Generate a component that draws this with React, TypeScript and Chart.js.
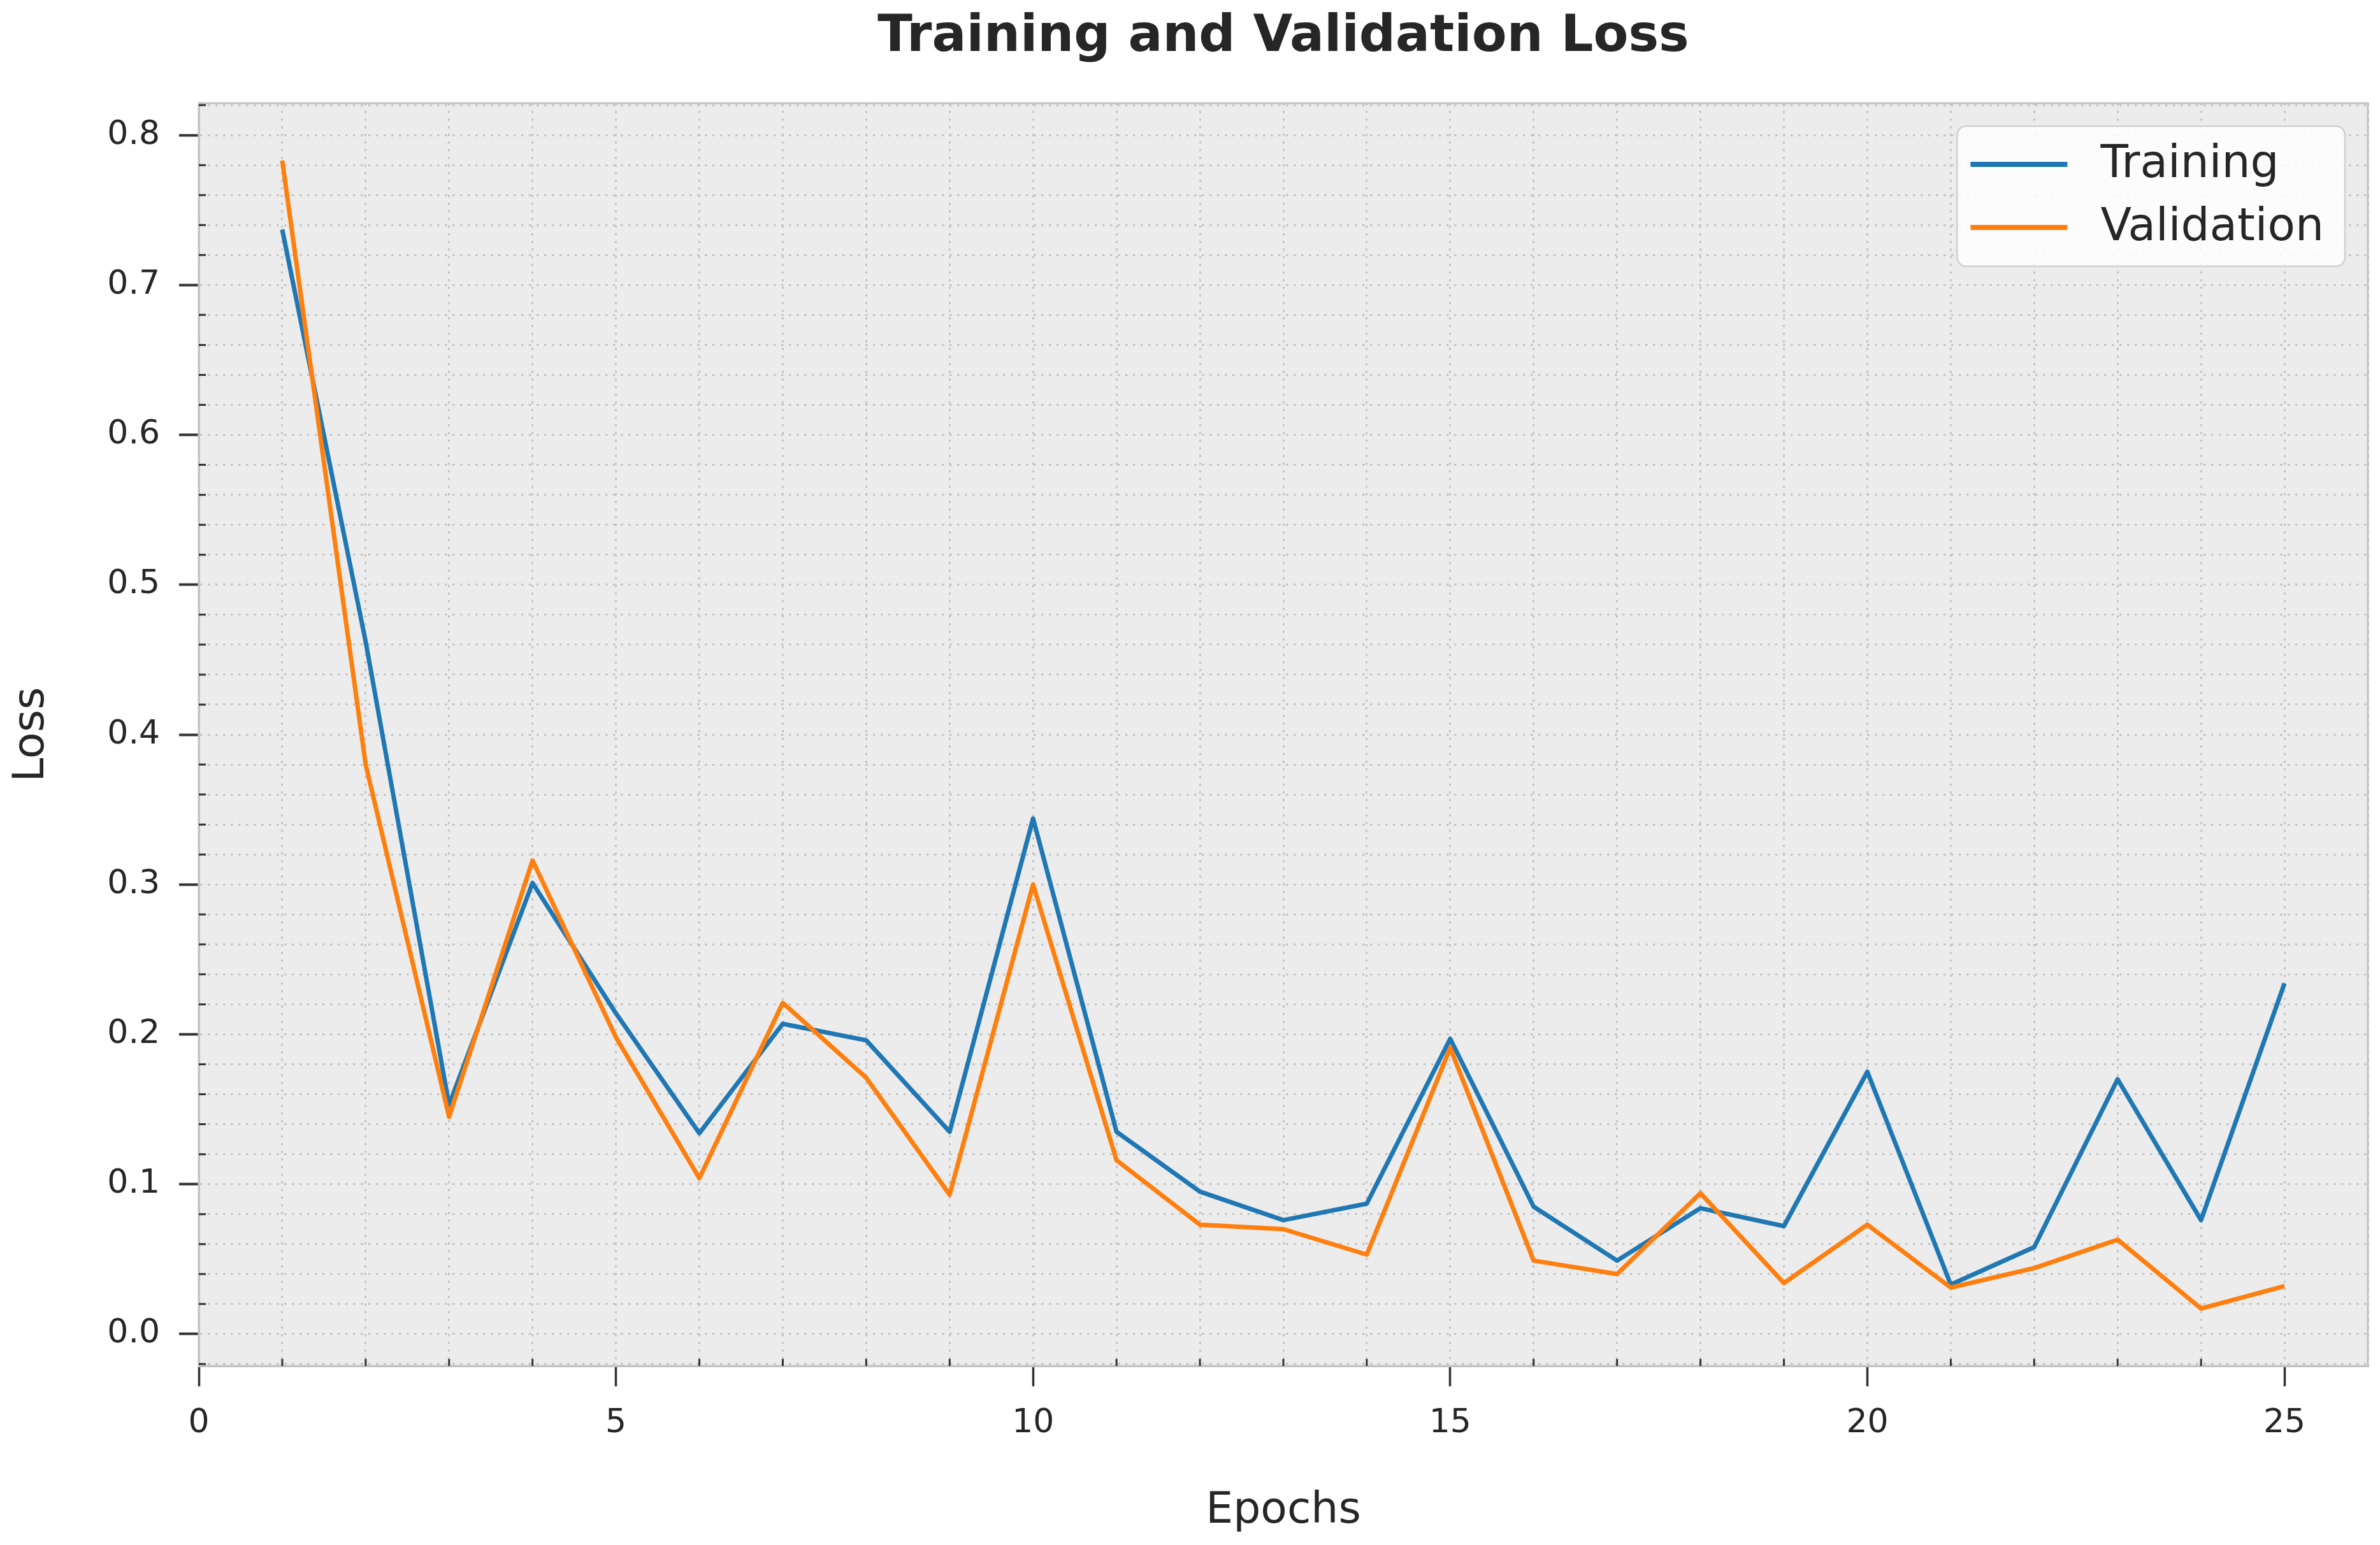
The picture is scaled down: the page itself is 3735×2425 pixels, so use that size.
import React, { useEffect, useRef } from 'react';
import { Chart, registerables } from 'chart.js';

Chart.register(...registerables);

const chartTitle = 'Training and Validation Loss';
const xAxisLabel = 'Epochs';
const yAxisLabel = 'Loss';
const seriesLabels = ['Training', 'Validation'];
const seriesColors = ['#1f77b4', '#ff7f0e'];

const epochs = [1, 2, 3, 4, 5, 6, 7, 8, 9, 10, 11, 12, 13, 14, 15, 16, 17, 18, 19, 20, 21, 22, 23, 24, 25];
const trainingLoss = [
  0.737, 0.462, 0.153, 0.301, 0.214, 0.134, 0.207, 0.196, 0.135, 0.344,
  0.135, 0.095, 0.076, 0.087, 0.197, 0.085, 0.049, 0.084, 0.072, 0.175,
  0.033, 0.058, 0.170, 0.076, 0.234,
];
const validationLoss = [
  0.783, 0.380, 0.145, 0.316, 0.198, 0.104, 0.221, 0.171, 0.093, 0.300,
  0.116, 0.073, 0.070, 0.053, 0.191, 0.049, 0.040, 0.094, 0.034, 0.073,
  0.031, 0.044, 0.063, 0.017, 0.032,
];

const X_MIN = 0;
const X_MAX = 26;
const Y_MIN = -0.0213;
const Y_MAX = 0.8213;

const FONT = '"DejaVu Sans", "Liberation Sans", sans-serif';
const TEXT_COLOR = '#262626';
const TICK_COLOR = '#333333';
const GRID_COLOR = '#c4c4c4';
const FRAME_COLOR = '#c2c2c2';
const PLOT_BG = '#ececec';

const isMajorY = (v: number) => Math.abs(v * 10 - Math.round(v * 10)) < 1e-6;
const isMajorX = (v: number) => Math.abs(v % 5) < 1e-6;

const decorPlugin = {
  id: 'decor',
  beforeDraw(chart: any) {
    const { ctx, chartArea } = chart;
    ctx.save();
    ctx.fillStyle = '#ffffff';
    ctx.fillRect(0, 0, chart.width, chart.height);
    ctx.fillStyle = PLOT_BG;
    ctx.fillRect(chartArea.left, chartArea.top, chartArea.right - chartArea.left, chartArea.bottom - chartArea.top);
    ctx.restore();
  },
  afterDatasetsDraw(chart: any) {
    const { ctx, chartArea } = chart;
    const { left, right, top, bottom } = chartArea;
    ctx.save();
    ctx.strokeStyle = FRAME_COLOR;
    ctx.lineWidth = 3;
    ctx.strokeRect(left, top, right - left, bottom - top);
    ctx.strokeStyle = TICK_COLOR;
    ctx.lineWidth = 3;
    ctx.beginPath();
    const ys = chart.scales.y;
    for (const t of ys.ticks) {
      if (isMajorY(t.value)) continue;
      const py = ys.getPixelForValue(t.value);
      if (py < top + 2 || py > bottom - 1) continue;
      ctx.moveTo(left, py);
      ctx.lineTo(left + 11, py);
    }
    const xs = chart.scales.x;
    for (const t of xs.ticks) {
      if (isMajorX(t.value) || t.value >= X_MAX) continue;
      const px = xs.getPixelForValue(t.value);
      ctx.moveTo(px, bottom);
      ctx.lineTo(px, bottom - 11);
    }
    ctx.stroke();
    ctx.restore();
  },
  afterDraw(chart: any) {
    const { ctx, chartArea } = chart;
    const datasets = chart.data.datasets;
    ctx.save();
    ctx.font = `71px ${FONT}`;
    let maxW = 0;
    for (const ds of datasets) maxW = Math.max(maxW, ctx.measureText(ds.label).width);
    const padL = 21;
    const lineLen = 152;
    const gap = 52;
    const padR = 33;
    const boxW = padL + lineLen + gap + maxW + padR;
    const boxH = 220;
    const boxX = chartArea.right - 36 - boxW;
    const boxY = chartArea.top + 36;
    const r = 14;
    ctx.beginPath();
    ctx.moveTo(boxX + r, boxY);
    ctx.lineTo(boxX + boxW - r, boxY);
    ctx.arcTo(boxX + boxW, boxY, boxX + boxW, boxY + r, r);
    ctx.lineTo(boxX + boxW, boxY + boxH - r);
    ctx.arcTo(boxX + boxW, boxY + boxH, boxX + boxW - r, boxY + boxH, r);
    ctx.lineTo(boxX + r, boxY + boxH);
    ctx.arcTo(boxX, boxY + boxH, boxX, boxY + boxH - r, r);
    ctx.lineTo(boxX, boxY + r);
    ctx.arcTo(boxX, boxY, boxX + r, boxY, r);
    ctx.closePath();
    ctx.fillStyle = 'rgba(255,255,255,0.85)';
    ctx.fill();
    ctx.strokeStyle = '#d0d0d0';
    ctx.lineWidth = 2.5;
    ctx.stroke();
    datasets.forEach((ds: any, i: number) => {
      const y = boxY + 60 + i * 99;
      ctx.strokeStyle = ds.borderColor;
      ctx.lineWidth = 8;
      ctx.lineCap = 'butt';
      ctx.beginPath();
      ctx.moveTo(boxX + padL, y);
      ctx.lineTo(boxX + padL + lineLen, y);
      ctx.stroke();
      ctx.fillStyle = TEXT_COLOR;
      ctx.textBaseline = 'middle';
      ctx.textAlign = 'left';
      ctx.fillText(ds.label, boxX + padL + lineLen + gap, y + 2);
    });
    ctx.restore();
  },
};

export default function App() {
  const canvasRef = useRef<HTMLCanvasElement | null>(null);

  useEffect(() => {
    document.body.style.margin = '0';
    const canvas = canvasRef.current;
    if (!canvas) return;
    const tickColorFn = (major: (v: number) => boolean) => (c: any) =>
      c.tick && major(c.tick.value) ? TICK_COLOR : 'rgba(0,0,0,0)';

    const chart = new Chart(canvas, {
      type: 'line',
      data: {
        datasets: [
          {
            label: seriesLabels[0],
            data: epochs.map((e, i) => ({ x: e, y: trainingLoss[i] })),
            borderColor: seriesColors[0],
            backgroundColor: seriesColors[0],
            borderWidth: 7,
            pointRadius: 0,
            tension: 0,
            borderJoinStyle: 'round',
            order: 2,
          },
          {
            label: seriesLabels[1],
            data: epochs.map((e, i) => ({ x: e, y: validationLoss[i] })),
            borderColor: seriesColors[1],
            backgroundColor: seriesColors[1],
            borderWidth: 7,
            pointRadius: 0,
            tension: 0,
            borderJoinStyle: 'round',
            order: 1,
          },
        ],
      },
      options: {
        responsive: false,
        animation: false,
        devicePixelRatio: 1,
        layout: { padding: { left: 0, right: 19, top: 0, bottom: 0 } },
        plugins: {
          legend: { display: false },
          tooltip: { enabled: false },
          title: {
            display: true,
            text: chartTitle,
            fullSize: false,
            color: TEXT_COLOR,
            font: { family: FONT, size: 80, weight: 'bold' },
            padding: { top: 11, bottom: 55 },
          },
        },
        scales: {
          x: {
            type: 'linear',
            min: X_MIN,
            max: X_MAX,
            afterFit: (s: any) => {
              s.height = 281;
              s.paddingLeft = 0;
              s.paddingRight = 0;
            },
            ticks: {
              stepSize: 1,
              autoSkip: false,
              includeBounds: false,
              maxRotation: 0,
              padding: 27,
              color: TEXT_COLOR,
              font: { family: FONT, size: 52 },
              callback: (v: any) => (isMajorX(Number(v)) && Number(v) < X_MAX ? String(v) : ''),
            },
            grid: {
              color: GRID_COLOR,
              lineWidth: 3,
              drawTicks: true,
              tickLength: 32,
              tickWidth: 3.5,
              tickColor: tickColorFn(isMajorX),
              tickBorderDash: [],
            },
            border: { display: true, color: FRAME_COLOR, width: 3, dash: [3.5, 8.5] },
            title: {
              display: true,
              text: xAxisLabel,
              color: TEXT_COLOR,
              font: { family: FONT, size: 68 },
              padding: { top: 0, bottom: 12 },
            },
          },
          y: {
            type: 'linear',
            min: Y_MIN,
            max: Y_MAX,
            afterFit: (s: any) => { s.width = 312; },
            ticks: {
              stepSize: 0.02,
              autoSkip: false,
              includeBounds: false,
              padding: 30,
              color: TEXT_COLOR,
              font: { family: FONT, size: 52 },
              callback: (v: any) => {
                const n = Number(v);
                return isMajorY(n) ? (Math.round(n * 10) / 10).toFixed(1) : '';
              },
            },
            grid: {
              color: GRID_COLOR,
              lineWidth: 3,
              drawTicks: true,
              tickLength: 31,
              tickWidth: 4,
              tickColor: tickColorFn(isMajorY),
              tickBorderDash: [],
            },
            border: { display: true, color: FRAME_COLOR, width: 3, dash: [3.5, 8.5] },
            title: {
              display: true,
              text: yAxisLabel,
              color: TEXT_COLOR,
              font: { family: FONT, size: 68 },
              padding: { top: 10, bottom: 0 },
            },
          },
        },
      },
      plugins: [decorPlugin],
    } as any);

    return () => {
      chart.destroy();
    };
  }, []);

  return (
    <div style={{ width: 3735, height: 2425 }}>
      <canvas ref={canvasRef} width={3735} height={2425} style={{ display: 'block', width: 3735, height: 2425 }} />
    </div>
  );
}
